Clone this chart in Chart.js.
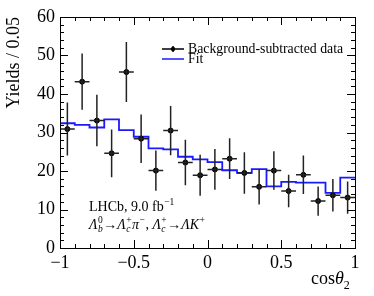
<!DOCTYPE html>
<html>
<head>
<meta charset="utf-8">
<script src="https://cdn.jsdelivr.net/npm/chart.js@4.4.1/dist/chart.umd.min.js"></script>
<style>
  html, body { margin: 0; padding: 0; background: #fff; }
  #wrap { width: 374px; height: 296px; }
</style>
</head>
<body>
<div id="wrap"><canvas id="c" width="374" height="296"></canvas></div>
<script>
// bin centres of cos(theta2), width 0.1
const binCenters = [-0.95, -0.85, -0.75, -0.65, -0.55, -0.45, -0.35, -0.25, -0.15, -0.05,
                    0.05, 0.15, 0.25, 0.35, 0.45, 0.55, 0.65, 0.75, 0.85, 0.95];
const binWidth = 0.1;
// background-subtracted data and its errors
const dataVals = [30.9, 43.2, 33.1, 24.6, 45.7, 28.4, 20.1, 30.5, 22.2, 18.9,
                  20.4, 23.2, 19.5, 15.9, 20.1, 14.8, 19.0, 12.2, 13.7, 13.1];
const dataErrs = [6.9, 7.3, 6.7, 6.2, 7.8, 6.3, 5.2, 6.4, 5.9, 5.3,
                  5.3, 5.3, 5.4, 4.6, 5.0, 4.2, 5.0, 3.8, 4.2, 4.2];
// fit projection
const fitVals = [32.4, 32.0, 31.3, 33.4, 30.6, 28.9, 25.9, 25.6, 23.7, 23.0,
                 22.3, 20.2, 19.5, 20.5, 16.0, 17.2, 17.0, 17.0, 14.3, 18.3];
const xTicks = [-1, -0.5, 0, 0.5, 1];
const yTicks = [0, 10, 20, 30, 40, 50, 60];

const SERIF = '"Liberation Serif", "DejaVu Serif", serif';

// step histogram: left edges + closing right edge
const fitPoints = binCenters.map((c, i) => ({ x: c - binWidth / 2, y: fitVals[i] }));
fitPoints.push({ x: binCenters[binCenters.length - 1] + binWidth / 2, y: fitVals[fitVals.length - 1] });

const dataPoints = binCenters.map((c, i) => ({ x: c, y: dataVals[i] }));

function fmtX(v) {
  if (Math.abs(v) < 1e-9) return '0';
  return (v < 0 ? '\u2212' : '') + String(Math.abs(v));
}

// draws a sequence of rich text pieces: {t, it, sup, sub}
function drawRich(ctx, x, y, parts, size) {
  parts.forEach(p => {
    const f = (it, s) => (it ? 'italic ' : '') + s + 'px ' + SERIF;
    let w = 0;
    if (p.t) {
      ctx.font = f(p.it, size);
      ctx.fillText(p.t, x, y);
      w = ctx.measureText(p.t).width;
    }
    let sw = 0;
    const ss = size * 0.68;
    if (p.sup) {
      ctx.font = f(p.supIt, ss);
      ctx.fillText(p.sup, x + w + 0.5, y - size * 0.42);
      sw = Math.max(sw, ctx.measureText(p.sup).width);
    }
    if (p.sub) {
      ctx.font = f(true, ss);
      ctx.fillText(p.sub, x + w + 0.5, y + size * 0.22);
      sw = Math.max(sw, ctx.measureText(p.sub).width);
    }
    x += w + (sw ? sw + 1 : 0);
  });
  return x;
}

const decor = {
  id: 'decor',
  afterDatasetsDraw(chart) {
    const ctx = chart.ctx;
    const xs = chart.scales.x, ys = chart.scales.y;
    ctx.save();
    // error bars
    ctx.strokeStyle = '#222';
    ctx.lineWidth = 1.5;
    binCenters.forEach((c, i) => {
      const px = xs.getPixelForValue(c);
      const py = ys.getPixelForValue(dataVals[i]);
      ctx.beginPath();
      ctx.moveTo(px, ys.getPixelForValue(dataVals[i] + dataErrs[i]));
      ctx.lineTo(px, ys.getPixelForValue(dataVals[i] - dataErrs[i]));
      ctx.moveTo(xs.getPixelForValue(c - binWidth / 2), py);
      ctx.lineTo(xs.getPixelForValue(c + binWidth / 2), py);
      ctx.stroke();
    });
    ctx.restore();
  },
  afterDraw(chart) {
    const ctx = chart.ctx;
    const xs = chart.scales.x, ys = chart.scales.y;
    const a = chart.chartArea;
    ctx.save();
    // frame
    ctx.strokeStyle = '#000';
    ctx.lineWidth = 1;
    ctx.strokeRect(Math.round(a.left) + 0.5, Math.round(a.top) + 0.5,
                   Math.round(a.right - a.left), Math.round(a.bottom - a.top));
    // inward ticks on all sides
    ctx.beginPath();
    for (let k = 0; k <= 20; k++) {
      const v = -1 + k * 0.1;
      const px = Math.round(xs.getPixelForValue(v)) + 0.5;
      const len = k % 5 === 0 ? 8 : 4;
      ctx.moveTo(px, a.bottom); ctx.lineTo(px, a.bottom - len);
      ctx.moveTo(px, a.top); ctx.lineTo(px, a.top + len);
    }
    for (let k = 0; k <= 30; k++) {
      const v = k * 2;
      const py = Math.round(ys.getPixelForValue(v)) + 0.5;
      const len = k % 5 === 0 ? 8 : 4;
      ctx.moveTo(a.left, py); ctx.lineTo(a.left + len, py);
      ctx.moveTo(a.right, py); ctx.lineTo(a.right - len, py);
    }
    ctx.stroke();

    ctx.fillStyle = '#000';
    ctx.textBaseline = 'alphabetic';
    // axis titles
    ctx.font = '18px ' + SERIF;
    let tx = a.right - 44;
    ctx.fillText('cos', tx, 284);
    tx += ctx.measureText('cos').width;
    ctx.font = 'italic 18px ' + SERIF;
    ctx.fillText('\u03b8', tx, 284);
    tx += ctx.measureText('\u03b8').width;
    ctx.font = '12px ' + SERIF;
    ctx.fillText('2', tx, 289);

    ctx.save();
    ctx.translate(19, a.top);
    ctx.rotate(-Math.PI / 2);
    ctx.font = '18px ' + SERIF;
    ctx.textAlign = 'right';
    ctx.fillText('Yields / 0.05', 0, 0);
    ctx.restore();

    // legend
    const ly1 = 49, ly2 = 59;
    ctx.strokeStyle = '#000';
    ctx.lineWidth = 1.5;
    ctx.beginPath();
    ctx.moveTo(162, ly1); ctx.lineTo(184, ly1);
    ctx.moveTo(173, ly1 - 3); ctx.lineTo(173, ly1 + 3);
    ctx.stroke();
    ctx.beginPath();
    ctx.arc(173, ly1, 2.2, 0, Math.PI * 2);
    ctx.fill();
    ctx.strokeStyle = '#1a1aff';
    ctx.beginPath();
    ctx.moveTo(162, ly2); ctx.lineTo(184, ly2);
    ctx.stroke();
    ctx.font = '13.8px ' + SERIF;
    ctx.fillText('Background-subtracted data', 188, ly1 + 4);
    ctx.fillText('Fit', 188, ly2 + 4);

    // LHCb label
    drawRich(ctx, 89, 211, [{ t: 'LHCb, 9.0 fb', sup: '\u22121' }], 14);
    drawRich(ctx, 89, 229, [
      { t: '\u039b', it: true, sup: '0', sub: 'b' },
      { t: '\u2192' },
      { t: '\u039b', it: true, sup: '+', sub: 'c' },
      { t: '\u03c0', it: true, sup: '\u2212' },
      { t: ', ' },
      { t: '\u039b', it: true, sup: '+', sub: 'c' },
      { t: '\u2192' },
      { t: '\u039bK', it: true, sup: '+' }
    ], 14);
    ctx.restore();
  }
};

new Chart(document.getElementById('c'), {
  type: 'scatter',
  data: {
    datasets: [
      {
        label: 'Fit',
        data: fitPoints,
        showLine: true,
        stepped: true,
        borderColor: '#1a1aff',
        borderWidth: 1.8,
        pointRadius: 0,
        fill: false,
        order: 2
      },
      {
        label: 'Background-subtracted data',
        data: dataPoints,
        showLine: false,
        pointRadius: 2.5,
        pointBackgroundColor: '#000',
        pointBorderColor: '#000',
        order: 1
      }
    ]
  },
  options: {
    responsive: false,
    animation: false,
    layout: { padding: { top: 17, right: 19, left: 0, bottom: 0 } },
    plugins: { legend: { display: false }, tooltip: { enabled: false } },
    scales: {
      x: {
        type: 'linear',
        min: -1, max: 1,
        afterFit: s => { s.height = 48; },
        afterBuildTicks: s => { s.ticks = xTicks.map(v => ({ value: v })); },
        grid: { display: false, drawTicks: false },
        border: { display: false },
        ticks: {
          padding: 4,
          color: '#000',
          font: { family: SERIF, size: 18 },
          callback: v => fmtX(v)
        }
      },
      y: {
        min: 0, max: 60,
        afterFit: s => { s.width = 60; },
        afterBuildTicks: s => { s.ticks = yTicks.map(v => ({ value: v })); },
        grid: { display: false, drawTicks: false },
        border: { display: false },
        ticks: {
          padding: 5,
          color: '#000',
          font: { family: SERIF, size: 18 }
        }
      }
    }
  },
  plugins: [decor]
});
</script>
</body>
</html>
